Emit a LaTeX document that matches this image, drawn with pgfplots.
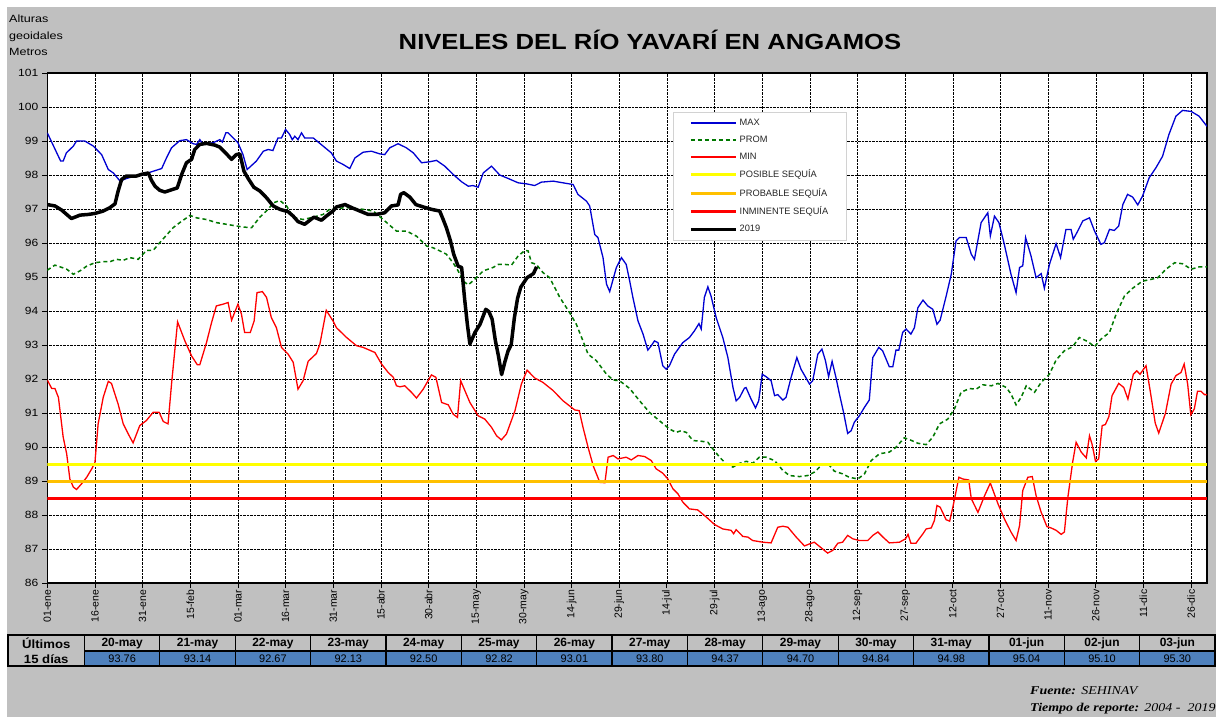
\documentclass[border=0pt]{standalone}
\usepackage{fontspec}
\setmainfont{Liberation Sans}
\newfontfamily\tnr{Liberation Serif}
\usepackage{pgfplots}
\pgfplotsset{compat=1.18}
\definecolor{bggray}{RGB}{192,192,192}
\definecolor{cellblue}{RGB}{79,129,189}
\definecolor{maxblue}{RGB}{0,0,210}
\definecolor{promgreen}{RGB}{0,120,0}
\definecolor{sqyellow}{RGB}{255,255,0}
\definecolor{sqorange}{RGB}{255,192,0}
\definecolor{legframe}{RGB}{210,210,210}

\begin{document}
\begin{tikzpicture}
\fill[white] (0,0) rectangle (1216bp,-717bp);
\fill[bggray] (7bp,-7bp) rectangle (1216bp,-717bp);

\begin{axis}[
    at={(47.3bp,-583bp)}, anchor=south west,
    width=1159.7bp, height=510bp, scale only axis,
    xmin=0, xmax=365, ymin=86, ymax=101,
    axis background/.style={fill=white},
    xtick={0,15,...,360},
    xticklabels={01-ene,16-ene,31-ene,15-feb,01-mar,16-mar,31-mar,15-abr,30-abr,15-may,30-may,14-jun,29-jun,14-jul,29-jul,13-ago,28-ago,12-sep,27-sep,12-oct,27-oct,11-nov,26-nov,11-dic,26-dic},
    ytick={86,87,...,101},
    tick pos=left, tick align=outside, major tick length=5bp,
    tick style={black, line width=0.8bp},
    x tick label style={rotate=90, anchor=east, font=\fontsize{10.5}{12}\selectfont, inner sep=1.5bp},
    y tick label style={font=\fontsize{10.5}{12}\selectfont, xscale=1.15},
    /pgf/number format/assume math mode=true,
    grid=major,
    grid style={black, densely dotted, line width=0.6bp},
    axis line style={black, line width=1.3bp},
    no markers,
    legend cell align=left,
    legend image code/.code={\draw[#1] (0bp,0bp) -- (45bp,0bp);},
    legend style={at={(0.5395,0.9235)}, anchor=north west, draw=legframe,
        fill=white, font=\fontsize{9.3}{11}\selectfont, text=black!85,
        inner xsep=16bp, inner ysep=5bp, row sep=5bp},
]
% MAX
\addplot[maxblue, line width=1.3bp] coordinates {
(0,99.24) (4.2,98.41) (5,98.41) (6,98.65) (8.2,98.85) (9.2,99.0) (11.8,99.0) (14.5,98.85) (17.1,98.6) (19.2,98.16) (20.8,98.06) (22.9,97.82) (25,97.9) (28,97.98) (30,98.0) (32.3,98.08) (36,98.19) (37.5,98.5) (39.1,98.8) (41.7,99.01) (43.8,99.04) (45.9,98.92) (47,98.9) (48,99.04) (49,98.9) (52.2,98.95) (54.3,99.04) (55.1,98.97) (56.2,99.24) (56.9,99.24) (60,98.95) (61.6,98.6) (62.9,98.16) (65.8,98.41) (68,98.7) (69.5,98.75) (71,98.72) (72.6,99.09) (73.7,99.09) (75,99.34) (76.3,99.19) (77.1,99.04) (77.9,99.14) (78.9,99.04) (80,99.24) (81,99.09) (83.7,99.09) (86.8,98.85) (89.4,98.65) (91,98.41) (93.1,98.31) (95.2,98.19) (96.8,98.5) (99.4,98.67) (102,98.70) (104.7,98.62) (106.2,98.6) (107.8,98.8) (110.4,98.92) (113,98.8) (115.2,98.65) (117.8,98.36) (120.4,98.39) (122.5,98.43) (125.1,98.26) (127.7,98.02) (130.4,97.8) (132.5,97.67) (134,97.69) (135.6,97.64) (137.2,98.06) (139.8,98.26) (142.4,98.0) (145,97.9) (148.2,97.77) (150.8,97.74) (153.4,97.69) (155.5,97.79) (159.2,97.82) (162.3,97.77) (165.5,97.72) (167,97.43) (169.7,97.23) (170.7,97.09) (172.3,96.25) (173.3,96.16) (174.9,95.57) (176,94.79) (177,94.57) (179.1,95.28) (180.7,95.57) (182.2,95.37) (183.3,94.88) (184.3,94.4) (185.9,93.71) (187.5,93.32) (189,92.85) (190.1,92.98) (191.1,93.12) (192.2,93.07) (193.7,92.39) (194.8,92.29) (195.8,92.39) (197.4,92.73) (200,93.07) (202.1,93.22) (203.7,93.42) (205.1,93.63) (205.8,93.47) (206.8,94.4) (207.9,94.71) (208.9,94.44) (210.5,93.81) (212.6,93.22) (214.2,92.63) (215.8,91.75) (216.8,91.36) (217.9,91.46) (219.4,91.73) (219.9,91.75) (221.5,91.41) (222.9,91.15) (223.9,91.36) (225,92.14) (226.2,92.07) (227.8,91.95) (228.9,91.51) (229.9,91.54) (231.5,91.38) (232.5,91.46) (234.1,92.05) (235.9,92.63) (237.2,92.29) (239.9,91.85) (240.9,91.95) (242.5,92.73) (243.8,92.88) (244.9,92.54) (245.9,92.07) (247,92.52) (248.2,92.05) (249.3,91.56) (250.6,91.02) (251.9,90.40) (253,90.48) (254,90.73) (255.6,90.92) (257.2,91.17) (258.7,91.38) (259.8,92.63) (261.7,92.93) (262.9,92.83) (265,92.36) (266.1,92.36) (267.1,92.85) (268,92.85) (269.2,93.37) (270.3,93.47) (271.8,93.32) (272.9,93.51) (274,94.1) (275.6,94.32) (277.1,94.15) (278.7,94.05) (280,93.61) (281,93.73) (282.9,94.44) (284.5,95.08) (286,96.06) (287.1,96.16) (289.2,96.16) (290.8,95.67) (291.8,95.52) (293.9,96.6) (296,96.89) (296.8,96.21) (298.1,96.79) (299.5,96.6) (301.2,95.96) (303.3,95.08) (304.9,94.54) (306,95.28) (307,95.33) (307.9,96.16) (309.6,95.62) (311.2,94.98) (312.8,95.1) (313.8,94.67) (315.4,95.37) (317.5,95.98) (318.9,95.57) (320.6,96.4) (322.2,96.4) (322.9,96.11) (324.3,96.35) (325.9,96.65) (328,96.74) (329.6,96.35) (331.6,95.96) (332.7,96.01) (334.3,96.4) (335.8,96.37) (337.2,96.5) (338.5,97.13) (340,97.43) (341.6,97.35) (343.2,97.12) (344.7,97.38) (346.8,97.92) (348.9,98.21) (351,98.55) (353,99.19) (355.2,99.73) (357.3,99.9) (360,99.87) (362.5,99.73) (365,99.43)
};
% PROM
\addplot[promgreen, line width=1.5bp, dash pattern=on 4bp off 3bp] coordinates {
(0,95.2) (2.4,95.35) (4,95.3) (6.1,95.23) (8.2,95.08) (10.3,95.18) (12.4,95.32) (15,95.42) (17.6,95.45) (19.7,95.45) (21.8,95.52) (23.9,95.49) (26,95.57) (28.6,95.52) (31.2,95.78) (33.3,95.78) (35.4,96.01) (37.5,96.23) (39.6,96.45) (41.7,96.6) (44.9,96.81) (47,96.74) (50.1,96.69) (53.2,96.6) (56.4,96.55) (59.5,96.5) (61.6,96.47) (64.3,96.45) (66.9,96.76) (69.5,96.99) (71.1,97.18) (73.2,97.25) (75.3,97.09) (77.4,96.76) (80.5,96.69) (83.7,96.76) (86.8,96.84) (89,97.0) (94.2,97.04) (99.4,96.99) (102.6,96.94) (105.7,96.69) (109.9,96.35) (113.1,96.35) (116.2,96.2) (119.4,95.91) (121.4,95.86) (123.5,95.77) (125.6,95.67) (127.7,95.42) (129.3,95.18) (130.9,94.88) (132.5,94.77) (134.5,94.93) (137.2,95.18) (140.3,95.28) (141.9,95.37) (144,95.37) (146.1,95.35) (148.2,95.62) (150.3,95.78) (151.3,95.77) (152.4,95.42) (153.9,95.37) (156,95.13) (158.1,94.98) (161.3,94.4) (164.4,93.95) (166.5,93.61) (168.6,93.12) (170.2,92.73) (172.8,92.54) (176,92.14) (178.1,91.97) (180.1,91.95) (183.3,91.72) (186.4,91.36) (189.5,91.02) (192.7,90.77) (195.8,90.53) (197.9,90.43) (199.5,90.48) (201.1,90.43) (203.2,90.19) (205.8,90.17) (207.9,90.14) (209.5,89.94) (211.6,89.7) (213.7,89.5) (215.8,89.41) (217.9,89.52) (220,89.58) (222,89.52) (224.1,89.7) (226.2,89.7) (228.9,89.6) (231.5,89.31) (233.6,89.16) (236.7,89.13) (239.3,89.16) (241.4,89.26) (243.5,89.45) (245.6,89.52) (247.7,89.29) (250.3,89.21) (252.4,89.11) (255.1,89.06) (257.2,89.21) (259.3,89.6) (261.9,89.8) (265,89.85) (267.1,89.99) (269.7,90.27) (271.8,90.2) (274,90.11) (276.6,90.07) (278.7,90.29) (280.8,90.68) (283.4,90.82) (285.5,91.12) (287.6,91.61) (290.2,91.72) (292.3,91.7) (294.4,91.83) (297.1,91.8) (299.2,91.87) (301.8,91.75) (303.3,91.56) (304.9,91.24) (306.5,91.46) (308.1,91.8) (310.7,91.61) (312.8,91.9) (315.4,92.14) (317.5,92.56) (320.1,92.83) (322.7,92.95) (324.8,93.22) (327.5,93.1) (329.6,92.95) (331.6,93.17) (334.3,93.37) (336.4,93.91) (339,94.44) (341.6,94.67) (344.7,94.88) (347.4,94.93) (349.5,94.98) (352.1,95.23) (354.8,95.42) (357.3,95.39) (360,95.23) (362.6,95.3) (365,95.3)
};
% MIN
\addplot[red, line width=1.3bp] coordinates {
(0,91.97) (1.4,91.72) (2.4,91.72) (3.5,91.46) (5,90.29) (6.1,89.8) (7.1,89.06) (8.2,88.82) (9.2,88.75) (10.8,88.92) (12.4,89.11) (14,89.36) (15,89.55) (16,90.68) (17.6,91.46) (19.2,91.93) (20.2,91.87) (22.3,91.26) (23.9,90.68) (25.5,90.38) (27,90.12) (29.1,90.63) (31.2,90.78) (33.3,91.02) (35.2,91.02) (36.5,90.75) (38,90.68) (39.1,91.85) (41,93.68) (43.3,93.12) (45.4,92.68) (47.2,92.42) (48,92.42) (50.1,93.07) (51.7,93.66) (53.2,94.15) (55.3,94.2) (56.9,94.25) (58,93.73) (60,94.2) (61.1,93.91) (62.1,93.37) (63.9,93.37) (65.1,93.71) (66,94.54) (67.7,94.57) (69,94.4) (70.5,93.81) (72.1,93.51) (73.7,92.93) (75.8,92.73) (77.4,92.49) (78.9,91.7) (80.5,91.95) (82.1,92.52) (84.7,92.75) (85.8,93.03) (87.8,94.02) (89.9,93.71) (91,93.51) (94.2,93.22) (97.3,92.98) (99.4,92.93) (103.1,92.78) (105.2,92.44) (107.3,92.19) (108.9,92.05) (109.9,91.8) (111,91.77) (112.5,91.8) (114.6,91.61) (116.2,91.44) (118.3,91.7) (120.9,92.12) (122.3,92.05) (124.1,91.31) (126.2,91.24) (127.7,90.97) (129.1,90.87) (130.1,91.95) (133,91.31) (135.6,90.92) (137.7,90.82) (139.8,90.58) (141.4,90.33) (142.9,90.21) (144.5,90.38) (147.2,91.07) (149.2,91.85) (151,92.26) (153.4,92.03) (156,91.9) (159.2,91.66) (162.3,91.36) (166,91.09) (167.4,91.07) (168.6,90.58) (170.2,89.99) (171.8,89.45) (173.9,88.96) (175.5,88.95) (176.5,89.7) (178.1,89.75) (179.6,89.65) (182.2,89.7) (183.8,89.62) (185.9,89.75) (188,89.72) (190.1,89.6) (191.6,89.36) (193.7,89.23) (195.3,89.06) (196.9,88.77) (198.5,88.62) (200,88.38) (202.1,88.18) (204.7,88.15) (207.4,87.94) (210,87.72) (212.6,87.59) (215.2,87.55) (216,87.45) (216.8,87.57) (218.9,87.37) (220.5,87.35) (222,87.25) (225.2,87.2) (227.8,87.18) (229.9,87.64) (231.5,87.67) (233.1,87.64) (235.7,87.35) (238.3,87.09) (239.9,87.15) (241.4,87.2) (243.5,87.04) (245.6,86.88) (247.2,86.96) (248.8,87.17) (250.3,87.2) (251.9,87.4) (253.5,87.3) (255.6,87.25) (258.2,87.25) (259.8,87.4) (261.4,87.5) (263,87.35) (265,87.18) (268.2,87.2) (270.1,87.3) (270.9,87.43) (271.8,87.17) (273.4,87.17) (274,87.25) (275.6,87.45) (276.6,87.59) (278.2,87.62) (279.2,87.84) (280,88.28) (281,88.23) (282.9,87.86) (284,87.82) (285,88.23) (286.9,89.11) (288.1,89.06) (290,89.03) (290.8,88.48) (292.9,88.08) (295,88.57) (296.8,88.94) (299.2,88.33) (301.2,87.89) (303.3,87.5) (304.9,87.25) (306,87.69) (307,88.72) (308.6,89.11) (310,89.13) (311.2,88.57) (312.8,88.08) (314.6,87.66) (315.9,87.62) (317.5,87.55) (319.1,87.43) (320.1,87.5) (321.2,88.52) (322.7,89.55) (323.8,90.14) (325.4,89.85) (327,89.68) (328,90.33) (328.8,90.09) (329.9,89.58) (330.9,89.65) (332,90.63) (333,90.66) (334.1,90.89) (335.1,91.51) (337.2,91.87) (338.8,91.75) (340.1,91.41) (341.8,92.14) (342.9,92.24) (343.9,92.14) (345.8,92.39) (347.1,91.66) (348.7,90.7) (349.8,90.41) (351.9,90.99) (353.7,91.85) (355.2,92.1) (356.8,92.19) (357.8,92.44) (358.9,91.85) (359.9,90.95) (361,91.12) (362,91.64) (363.1,91.64) (364.2,91.54) (365,91.54)
};
% thresholds
\addplot[sqyellow, line width=3bp] coordinates {(0,89.5) (365,89.5)};
\addplot[sqorange, line width=3bp] coordinates {(0,89.0) (365,89.0)};
\addplot[red, line width=3bp] coordinates {(0,88.5) (365,88.5)};
% 2019
\addplot[black, line width=3.5bp, line join=round] coordinates {
(0,97.13) (2.4,97.09) (4.5,96.97) (6.1,96.84) (7.6,96.72) (10.3,96.82) (12.9,96.84) (15,96.87) (17.6,96.94) (19.7,97.04) (21.3,97.15) (22.3,97.53) (23.4,97.87) (24.9,97.97) (28.1,97.97) (29.7,98.02) (31.8,98.06) (32.8,97.84) (33.9,97.67) (35.4,97.55) (37,97.5) (38.6,97.55) (40.9,97.62) (42.3,98.02) (43.8,98.36) (45.4,98.46) (46.4,98.75) (48,98.9) (50.1,98.93) (52.7,98.88) (54.3,98.82) (56.4,98.62) (58,98.46) (59.5,98.6) (60.6,98.62) (61.9,98.11) (63.2,97.9) (65,97.64) (66.9,97.53) (69,97.33) (71.1,97.09) (73.2,96.99) (75.8,96.92) (77.4,96.79) (78.9,96.63) (81,96.55) (82.1,96.63) (83.9,96.76) (86.3,96.67) (87.8,96.79) (89.9,96.94) (91,97.06) (93.7,97.13) (96.3,97.02) (98.9,96.92) (101,96.84) (103.6,96.84) (106.2,96.89) (108.3,97.09) (110.4,97.12) (111.2,97.43) (112.2,97.48) (114.1,97.35) (116,97.13) (118.3,97.06) (120.9,96.99) (123.5,96.94) (124.6,96.69) (125.6,96.45) (126.9,96.06) (127.9,95.67) (129.3,95.32) (130.4,95.28) (131.4,94.3) (132.2,93.61) (133,93.03) (134.6,93.37) (136.2,93.61) (138,94.05) (139,93.98) (140,93.76) (141,93.14) (142,92.67) (143,92.13) (144,92.50) (145,92.82) (146,93.01) (147,93.80) (148,94.37) (149,94.70) (150,94.84) (151,94.98) (152,95.04) (153,95.10) (154,95.30)
};
\legend{MAX,PROM,MIN,POSIBLE SEQUÍA,PROBABLE SEQUÍA,INMINENTE SEQUÍA,2019}
\end{axis}

\begin{scope}[x=1bp,y=-1bp]
% title and y label
\node[anchor=base, font=\fontsize{22}{26}\selectfont\bfseries, xscale=1.17] at (650,49) {NIVELES DEL RÍO YAVARÍ EN ANGAMOS};
\node[anchor=base west, font=\fontsize{10.5}{12}\selectfont, inner sep=0pt, xscale=1.2] at (9,22) {Alturas};
\node[anchor=base west, font=\fontsize{10.5}{12}\selectfont, inner sep=0pt, xscale=1.2] at (9,39) {geoidales};
\node[anchor=base west, font=\fontsize{10.5}{12}\selectfont, inner sep=0pt, xscale=1.2] at (9,55) {Metros};
% table of the last 15 days
\draw[line width=1.2bp, fill=bggray] (8,635) rectangle (84.5,666);
\node[font=\fontsize{12}{14}\selectfont\bfseries, xscale=1.1] at (46.25,643.5) {Últimos};
\node[font=\fontsize{12}{14}\selectfont\bfseries, xscale=1.1] at (46.25,659) {15 días};
\foreach \d/\v [count=\i from 0] in {20-may/93.76,21-may/93.14,22-may/92.67,23-may/92.13,24-may/92.50,25-may/92.82,26-may/93.01,27-may/93.80,28-may/94.37,29-may/94.70,30-may/94.84,31-may/94.98,01-jun/95.04,02-jun/95.10,03-jun/95.30}{
  \pgfmathsetmacro{\xa}{84.5+75.37*\i}
  \pgfmathsetmacro{\xb}{\xa+75.37}
  \pgfmathsetmacro{\xc}{\xa+37.685}
  \draw[line width=1.2bp, fill=bggray] (\xa,635) rectangle (\xb,651);
  \draw[line width=1.2bp, fill=cellblue] (\xa,651) rectangle (\xb,666);
  \node[font=\fontsize{12}{14}\selectfont\bfseries] at (\xc,643.5) {\d};
  \node[font=\fontsize{11}{13}\selectfont] at (\xc,658.8) {\v};
}
% source
\node[anchor=base west, inner sep=0pt, font=\fontsize{12}{14}\selectfont, xscale=1.17] at (1030,694) {{\tnr\bfseries\itshape Fuente:} {\tnr\itshape SEHINAV}};
\node[anchor=base west, inner sep=0pt, font=\fontsize{12}{14}\selectfont, xscale=1.17] at (1030,711) {{\tnr\bfseries\itshape Tiempo de reporte:} {\tnr\itshape 2004 -\ \ 2019}};
\end{scope}

\pgfresetboundingbox
\path[use as bounding box] (0,0) rectangle (1216bp,-717bp);
\end{tikzpicture}
\end{document}
